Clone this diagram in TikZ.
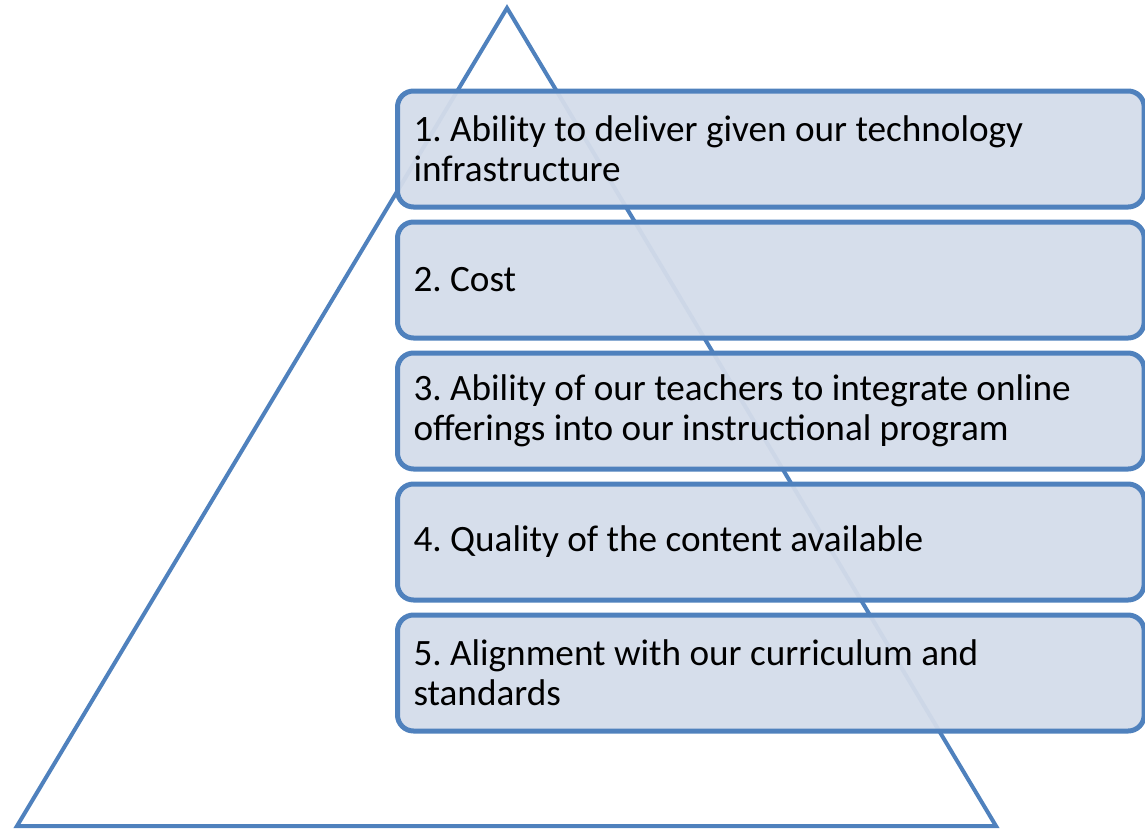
\documentclass[tikz,border=0pt]{standalone}
\usepackage{fontspec}
\setmainfont{Carlito}
\definecolor{edgeblue}{RGB}{79,129,189}
\definecolor{boxfill}{RGB}{212,220,234}
\begin{document}
\begin{tikzpicture}[x=0.75pt,y=-0.75pt,
    tier/.style={draw=edgeblue, line width=3.75pt, fill=boxfill, fill opacity=0.95,
      text opacity=1, rounded corners=12pt, anchor=west,
      minimum height=87pt, inner xsep=12pt, text width=536pt,
      font=\fontsize{27.9pt}{30pt}\selectfont\frenchspacing\raggedright}]
    \useasboundingbox (0,0) rectangle (1145,828);

    \coordinate (apex) at (507,8);
    \coordinate (right) at (996,826);
    \coordinate (left) at (17,826);
    \draw[edgeblue, line width=3pt] (apex) -- (right) -- (left) -- cycle;

    \foreach \i/\txt in {1/{1. Ability to deliver given our technology\\infrastructure},
                         2/{2. Cost},
                         3/{3. Ability of our teachers to integrate online\\offerings into our instructional program},
                         4/{4. Quality of the content available},
                         5/{5. Alignment with our curriculum and\\standards}}
      \node[tier] (tier\i) at (395,{149+131*(\i-1)}) {\spaceskip=0pt\xspaceskip=0pt\relax\txt};
  \end{tikzpicture}
\end{document}
